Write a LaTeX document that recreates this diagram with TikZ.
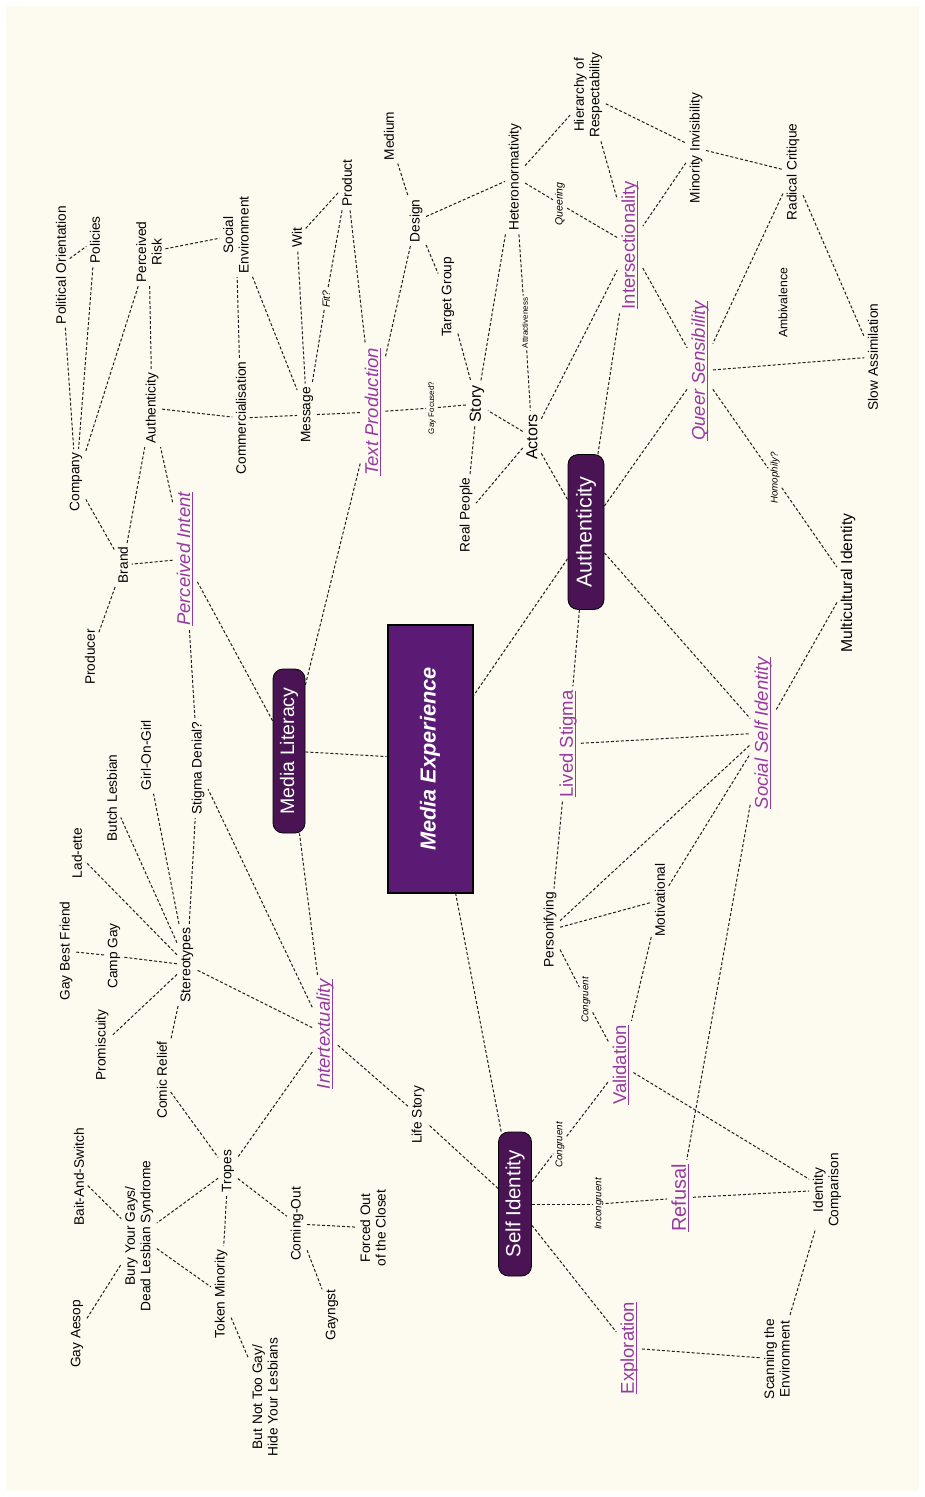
\documentclass[tikz,border=0pt]{standalone}
\usepackage{fontspec}
\setmainfont{Liberation Sans}
\definecolor{bgc}{RGB}{253,251,240}
\definecolor{mec}{RGB}{91,27,116}
\definecolor{hubc}{RGB}{74,20,84}
\definecolor{ptxt}{RGB}{150,58,162}
\definecolor{lnc}{RGB}{30,30,30}
\newcommand\ulbl[1]{\setbox0=\hbox{#1}\rlap{\rule[-3pt]{\wd0}{1pt}}\box0}
\tikzset{
  lb/.style={rotate=90, inner sep=3.5pt, align=center, text=black, font=\fontsize{13.7pt}{15.5pt}\selectfont},
  smi/.style={rotate=90, inner sep=2pt, text=black, font=\fontsize{9.8pt}{11pt}\selectfont\itshape},
  tny/.style={rotate=90, inner sep=2pt, text=black, font=\fontsize{8pt}{9pt}\selectfont},
  pli/.style={rotate=90, inner sep=4pt, text=ptxt, font=\fontsize{18.5pt}{22pt}\selectfont\itshape},
  plu/.style={rotate=90, inner sep=4pt, text=ptxt, font=\fontsize{18.5pt}{22pt}\selectfont},
  hub/.style={rotate=90, draw=black, line width=0.8pt, fill=hubc, rounded corners=10pt, text=white, inner sep=0pt},
  ln/.style={draw=lnc, line width=1pt, dash pattern=on 3pt off 2pt},
}
\begin{document}
\begin{tikzpicture}[x=1pt,y=-1pt]
\useasboundingbox (0,0) rectangle (925,1497);
\fill[white] (0,0) rectangle (925,1497);
\fill[bgc] (6,6) rectangle (919,1491);

% hubs
\node[rotate=90, draw=black, line width=2pt, fill=mec, text=white, minimum width=268pt, minimum height=85pt,
  font=\fontsize{21.7pt}{24pt}\selectfont\bfseries\itshape] (me) at (430,759) {Media Experience};
\node[hub, minimum width=164pt, minimum height=32pt, font=\fontsize{19.5pt}{22pt}\selectfont] (ml) at (289,751) {Media Literacy};
\node[hub, minimum width=155pt, minimum height=36pt, font=\fontsize{21.5pt}{24pt}\selectfont] (auth) at (586,532) {Authenticity};
\node[hub, minimum width=144pt, minimum height=33pt, font=\fontsize{20.5pt}{23pt}\selectfont] (si) at (515,1204) {Self Identity};

% purple labels
\node[pli] (pint) at (185,559) {\ulbl{Perceived Intent}};
\node[pli] (tprod) at (373,412) {\ulbl{Text Production}};
\node[pli] (intert) at (325,1034) {\ulbl{Intertextuality}};
\node[plu] (lived) at (568,744) {\ulbl{Lived Stigma}};
\node[pli] (ssi) at (763,733) {\ulbl{Social Self Identity}};
\node[pli] (queer) at (700,371) {\ulbl{Queer Sensibility}};
\node[plu] (inters) at (630,245) {\ulbl{Intersectionality}};
\node[plu] (valid) at (621,1065) {\ulbl{Validation}};
\node[plu, font=\fontsize{20pt}{23pt}\selectfont] (refusal) at (680,1198) {\ulbl{Refusal}};
\node[plu] (explor) at (629,1348) {\ulbl{Exploration}};

% black labels
\node[lb] (polor) at (61,265) {Political Orientation};
\node[lb] (pol) at (95,240) {Policies};
\node[lb] (prisk) at (149,252) {Perceived\\Risk};
\node[lb] (socenv) at (236,235) {Social\\Environment};
\node[lb] (wit) at (297,238) {Wit};
\node[lb] (prod) at (347,183) {Product};
\node[lb] (medium) at (389,136) {Medium};
\node[lb] (design) at (416,221) {Design};
\node[lb] (tgroup) at (448,297) {Target Group};
\node[lb] (hetero) at (515,177) {Heteronormativity};
\node[lb] (hier) at (588,95) {Hierarchy of\\Respectability};
\node[smi, font=\fontsize{10.5pt}{12pt}\selectfont\itshape] (queering) at (560,204) {Queering};
\node[smi, font=\fontsize{10.5pt}{12pt}\selectfont\itshape] (fit) at (326,299) {Fit?};
\node[tny] (attr) at (525,323) {Attractiveness};
\node[lb] (mininv) at (696,148) {Minority Invisibility};
\node[lb] (radcrit) at (793,172) {Radical Critique};
\node[lb, font=\fontsize{12.2pt}{14pt}\selectfont] (ambiv) at (783,303) {Ambivalence};
\node[lb] (slowass) at (873,357) {Slow Assimilation};
\node[lb] (company) at (76,482) {Company};
\node[lb] (auth2) at (152,408) {Authenticity};
\node[lb] (commerc) at (241,418) {Commercialisation};
\node[lb] (message) at (307,415) {Message};
\node[lb] (brand) at (123,565) {Brand};
\node[lb] (producer) at (90,657) {Producer};
\node[tny] (gayfoc) at (432,408) {Gay Focused?};
\node[lb, font=\fontsize{16pt}{18pt}\selectfont] (story) at (477,404) {Story};
\node[lb, font=\fontsize{16pt}{18pt}\selectfont] (actors) at (532,437) {Actors};
\node[lb] (realp) at (466,515) {Real People};
\node[smi] (homoph) at (775,478) {Homophily?};
\node[lb, font=\fontsize{15.7pt}{18pt}\selectfont] (multi) at (848,583) {Multicultural Identity};
\node[lb, font=\fontsize{14pt}{16pt}\selectfont] (stereo) at (187,965) {Stereotypes};
\node[lb] (ladette) at (77,853) {Lad-ette};
\node[lb] (butch) at (112,798) {Butch Lesbian};
\node[lb] (girl) at (146,755) {Girl-On-Girl};
\node[lb] (stigden) at (198,768) {Stigma Denial?};
\node[lb] (gbf) at (66,951) {Gay Best Friend};
\node[lb] (camp) at (114,956) {Camp Gay};
\node[lb] (promis) at (102,1045) {Promiscuity};
\node[lb] (comic) at (162,1080) {Comic Relief};
\node[lb] (bait) at (79,1177) {Bait-And-Switch};
\node[lb] (bury) at (139,1236) {Bury Your Gays/\\Dead Lesbian Syndrome};
\node[lb] (tropes) at (228,1171) {Tropes};
\node[lb] (comingout) at (297,1224) {Coming-Out};
\node[lb] (aesop) at (77,1334) {Gay Aesop};
\node[lb] (token) at (221,1294) {Token Minority};
\node[lb] (butnot) at (265,1397) {But Not Too Gay/\\Hide Your Lesbians};
\node[lb] (forced) at (373,1228) {Forced Out\\of the Closet};
\node[lb] (gayngst) at (332,1315) {Gayngst};
\node[lb] (lifestory) at (418,1115) {Life Story};
\node[smi] (cong1) at (560,1145) {Congruent};
\node[smi] (incong) at (599,1204) {Incongruent};
\node[lb] (person) at (550,930) {Personifying};
\node[smi] (cong2) at (586,1000) {Congruent};
\node[lb] (motiv) at (660,900) {Motivational};
\node[lb] (idcomp) at (827,1190) {Identity\\Comparison};
\node[lb] (scan) at (777,1359) {Scanning the\\Environment};

% connectors
\foreach \a/\b in {polor/company, pol/company, prisk/company, polor/pol, prisk/socenv, prisk/auth2,
  auth2/commerc, commerc/message, commerc/socenv, socenv/message, wit/message, wit/prod,
  prod/fit, fit/message, prod/tprod, design/tprod, medium/design, design/tgroup, design/hetero,
  message/tprod, tprod/gayfoc, gayfoc/story, tgroup/story, hetero/story, hetero/attr, attr/actors,
  hetero/hier, hetero/queering, queering/inters, hier/inters, hier/mininv, mininv/radcrit,
  mininv/inters, inters/queer, radcrit/queer, radcrit/slowass, queer/slowass, actors/inters,
  auth/inters, actors/story, actors/realp, story/realp, actors/auth, auth/queer, auth/ssi,
  queer/homoph, homoph/multi, multi/ssi, auth/lived, auth/me, lived/ssi, lived/person,
  person/ssi, person/motiv, motiv/ssi, motiv/valid, person/cong2, cong2/valid, valid/idcomp,
  ssi/refusal, refusal/idcomp, idcomp/scan, explor/scan, si/explor, si/incong, incong/refusal,
  si/cong1, cong1/valid, si/me, si/lifestory, intert/lifestory, intert/ml, intert/stigden,
  intert/stereo, intert/tropes, stereo/stigden, stereo/ladette, stereo/butch, stereo/girl,
  stereo/camp, camp/gbf, stereo/promis, stereo/comic, comic/tropes, tropes/bury, tropes/token,
  tropes/comingout, bait/bury, aesop/bury, bury/token, token/butnot, comingout/forced,
  comingout/gayngst, ml/pint, ml/tprod, ml/me, pint/stigden, pint/brand, pint/auth2,
  brand/company, brand/auth2, brand/producer}
  \draw[ln] (\a) -- (\b);
\end{tikzpicture}
\end{document}
